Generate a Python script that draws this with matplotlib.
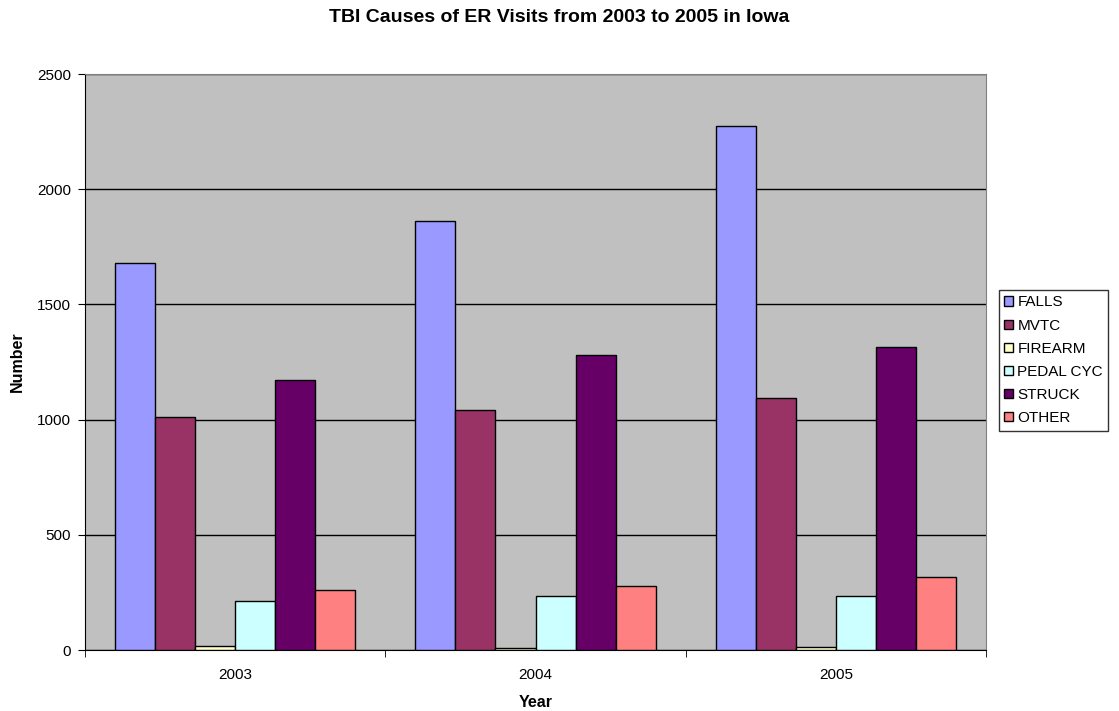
import numpy as np
import matplotlib.pyplot as plt
from matplotlib.patches import Patch

plt.rcParams['font.family'] = ['Liberation Sans', 'DejaVu Sans']

# ---- data ----
years = ['2003', '2004', '2005']
causes = ['FALLS', 'MVTC', 'FIREARM', 'PEDAL CYC', 'STRUCK', 'OTHER']
falls = [1680, 1860, 2275]
mvtc = [1012, 1040, 1095]
firearm = [16, 9, 13]
pedal_cyc = [211, 235, 235]
struck = [1172, 1279, 1314]
other = [261, 278, 315]
series = [falls, mvtc, firearm, pedal_cyc, struck, other]
colors = ['#9999FF', '#993366', '#FFFFCC', '#CCFFFF', '#660066', '#FF8080']

fig = plt.figure(figsize=(11.19, 7.11), dpi=100)
ax = fig.add_axes([85 / 1119, 61 / 711, 901 / 1119, 576 / 711])
ax.set_facecolor('#C0C0C0')

x = np.arange(len(years))
w = 0.8 / 6
for i, (vals, c) in enumerate(zip(series, colors)):
    ax.bar(x + (i - 2.5) * w, vals, width=w, color=c, edgecolor='black',
           linewidth=1.0, label=causes[i], zorder=3)

ax.set_xlim(-0.5, 2.5)
ax.set_ylim(0, 2500)
ax.set_yticks(np.arange(0, 2501, 500))
ax.yaxis.grid(True, color='black', linewidth=1.0, zorder=1)
ax.set_axisbelow(True)

ax.set_xticks(x)
ax.set_xticklabels(years, fontsize=11)
ax.set_xticks([-0.5, 0.5, 1.5, 2.5], minor=True)
ax.tick_params(axis='x', which='major', length=0, pad=13)
ax.tick_params(axis='x', which='minor', length=5, direction='out', color='black')
ax.tick_params(axis='y', length=5, direction='out', labelsize=11, pad=5)

for s in ['top', 'right']:
    ax.spines[s].set_color('#808080')
for s in ['left', 'bottom']:
    ax.spines[s].set_color('black')

ax.set_xlabel('Year', fontsize=11.5, fontweight='bold', labelpad=9)
ax.set_ylabel('Number', fontsize=11.5, fontweight='bold', labelpad=9)
fig.text(0.5, 1 - 17 / 711, 'TBI Causes of ER Visits from 2003 to 2005 in Iowa',
         fontsize=14, fontweight='bold', ha='center', va='center')

handles = [Patch(facecolor=c, edgecolor='black', linewidth=1.0) for c in colors]
leg = fig.legend(handles, causes, loc='upper left',
                 bbox_to_anchor=(999 / 1119, 1 - 290 / 711),
                 fontsize=11, frameon=True, fancybox=False, borderpad=0.35,
                 handlelength=0.55, handleheight=0.55, handletextpad=0.3,
                 labelspacing=0.6, borderaxespad=0)
leg.get_frame().set_edgecolor('black')
leg.get_frame().set_linewidth(1.0)

fig.savefig('out.png', dpi=100)
